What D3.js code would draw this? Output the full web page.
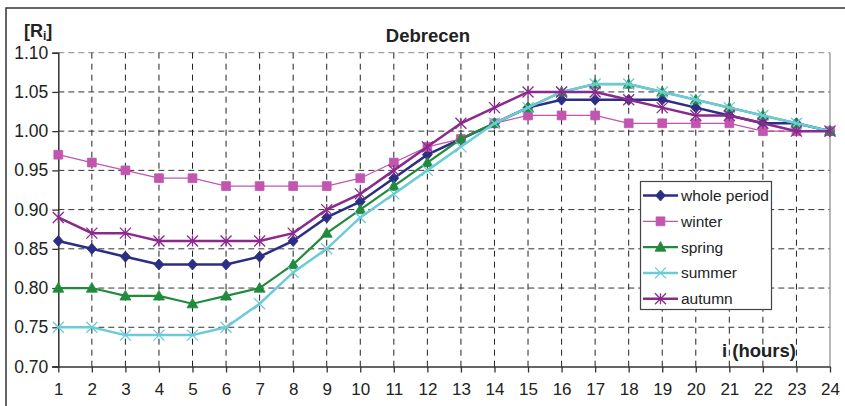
<!DOCTYPE html>
<html>
<head>
<meta charset="utf-8">
<script src="https://cdn.jsdelivr.net/npm/d3@7"></script>
<style>
  body { margin: 0; background: #fff; }
  svg { display: block; font-family: "Liberation Sans", Arial, sans-serif; }
</style>
</head>
<body>
<svg id="chart"></svg>
<script>
// hours on the x axis
var hours = d3.range(1, 25)
var yTicks = [0.70, 0.75, 0.80, 0.85, 0.90, 0.95, 1.00, 1.05, 1.10]

var wholePeriod = [0.86, 0.85, 0.84, 0.83, 0.83, 0.83, 0.84, 0.86, 0.89, 0.91, 0.94, 0.97,
                   0.99, 1.01, 1.03, 1.04, 1.04, 1.04, 1.04, 1.03, 1.02, 1.01, 1.01, 1.00]
var winter = [0.97, 0.96, 0.95, 0.94, 0.94, 0.93, 0.93, 0.93, 0.93, 0.94, 0.96, 0.98,
              0.99, 1.01, 1.02, 1.02, 1.02, 1.01, 1.01, 1.01, 1.01, 1.00, 1.00, 1.00]
var spring = [0.80, 0.80, 0.79, 0.79, 0.78, 0.79, 0.80, 0.83, 0.87, 0.90, 0.93, 0.96,
              0.99, 1.01, 1.03, 1.05, 1.06, 1.06, 1.05, 1.04, 1.03, 1.02, 1.01, 1.00]
var summer = [0.75, 0.75, 0.74, 0.74, 0.74, 0.75, 0.78, 0.82, 0.85, 0.89, 0.92, 0.95,
              0.98, 1.01, 1.03, 1.05, 1.06, 1.06, 1.05, 1.04, 1.03, 1.02, 1.01, 1.00]
var autumn = [0.89, 0.87, 0.87, 0.86, 0.86, 0.86, 0.86, 0.87, 0.90, 0.92, 0.95, 0.98,
              1.01, 1.03, 1.05, 1.05, 1.05, 1.04, 1.03, 1.02, 1.02, 1.01, 1.00, 1.00]

var seriesNames = ["whole period", "winter", "spring", "summer", "autumn"]
var seriesValues = [wholePeriod, winter, spring, summer, autumn]

var styles = {
    "whole period": {color: "#2b2e83", width: 2.5, marker: "diamond"},
    "winter":       {color: "#c255b0", width: 1.3, marker: "square"},
    "spring":       {color: "#218a3c", width: 2.2, marker: "triangle"},
    "summer":       {color: "#6ccbd9", width: 2.5, marker: "x"},
    "autumn":       {color: "#8a2a8c", width: 2.5, marker: "star"}
}

var W = 845, H = 406
var svg = d3.select("#chart").attr("width", W).attr("height", H)

// outer frame (only top and left are visible in the crop)
svg.append("path")
    .attr("d", "M6,406 L6,8 L845,8")
    .attr("fill", "none")
    .attr("stroke", "#333")
    .attr("stroke-width", 1.5)

var x = d3.scaleLinear().domain([1, 24]).range([58.3, 830])
var y = d3.scaleLinear().domain([0.70, 1.10]).range([366.5, 52.7])

// grid
var grid = svg.append("g")
grid.selectAll("line.h")
    .data(yTicks.filter(d => d > 0.71))
    .enter().append("line")
    .attr("x1", x(1)).attr("x2", x(24))
    .attr("y1", d => y(d)).attr("y2", d => y(d))
    .attr("stroke", d => d > 1.09 ? "#888" : "#333")
    .attr("stroke-width", 1)
    .attr("stroke-dasharray", "6,4")

grid.selectAll("line.v")
    .data(hours.slice(1, 23))
    .enter().append("line")
    .attr("x1", d => x(d)).attr("x2", d => x(d))
    .attr("y1", y(1.10)).attr("y2", y(0.70))
    .attr("stroke", "#222")
    .attr("stroke-width", 1)
    .attr("stroke-dasharray", "6,5")

// right border of plot
svg.append("line")
    .attr("x1", x(24)).attr("x2", x(24))
    .attr("y1", y(1.10)).attr("y2", y(0.70))
    .attr("stroke", "#888").attr("stroke-width", 1.2)

// axes
var xAxis = svg.append("g")
    .attr("transform", "translate(0," + y(0.70) + ")")
    .call(d3.axisBottom(x).tickValues(hours).tickFormat(d3.format("d")).tickSizeOuter(0).tickSize(6).tickPadding(10))
xAxis.select(".domain").attr("stroke", "#333").attr("stroke-width", 1.5)
    .attr("d", "M" + (x(1) - 6) + ",0.5H" + x(24))
xAxis.selectAll(".tick line").attr("stroke", "#333").attr("stroke-width", 1.3)
xAxis.selectAll(".tick text")
    .attr("font-size", "17px").attr("fill", "#222")
    .attr("font-family", "Liberation Sans, Arial, sans-serif")

var yAxis = svg.append("g")
    .attr("transform", "translate(" + x(1) + ",0)")
    .call(d3.axisLeft(y).tickValues(yTicks).tickFormat(d3.format(".2f")).tickSizeOuter(0).tickSize(6).tickPadding(4))
yAxis.select(".domain").attr("stroke", "#333").attr("stroke-width", 1.5)
yAxis.selectAll(".tick line").attr("stroke", "#333").attr("stroke-width", 1.3)
yAxis.selectAll(".tick text")
    .attr("font-size", "17.5px").attr("fill", "#222")
    .attr("font-family", "Liberation Sans, Arial, sans-serif")

// marker shapes
function markerPath(type, s) {
    if (type === "diamond") return "M0," + (-s) + "L" + (s * 0.9) + ",0L0," + s + "L" + (-s * 0.9) + ",0Z"
    if (type === "square") { var h = s * 0.8; return "M" + (-h) + "," + (-h) + "H" + h + "V" + h + "H" + (-h) + "Z" }
    if (type === "triangle") return "M0," + (-s) + "L" + s + "," + (s * 0.75) + "L" + (-s) + "," + (s * 0.75) + "Z"
    if (type === "x") return "M" + (-s) + "," + (-s) + "L" + s + "," + s + "M" + (-s) + "," + s + "L" + s + "," + (-s)
    if (type === "star") return "M" + (-s) + "," + (-s) + "L" + s + "," + s + "M" + (-s) + "," + s + "L" + s + "," + (-s) + "M0," + (-s) + "V" + s
}

function drawMarker(g, type, color, cx, cy) {
    var stroked = type === "x" || type === "star"
    g.append("path")
        .attr("transform", "translate(" + cx + "," + cy + ")")
        .attr("d", markerPath(type, stroked ? 5.5 : 5.5))
        .attr("fill", stroked ? "none" : color)
        .attr("stroke", color)
        .attr("stroke-width", stroked ? 1.3 : 0.8)
}

var line = d3.line()
    .x((d, i) => x(hours[i]))
    .y(d => y(d))

var plot = svg.append("g")
seriesNames.forEach(function (name, k) {
    var st = styles[name]
    var g = plot.append("g")
    g.append("path")
        .datum(seriesValues[k])
        .attr("d", line)
        .attr("fill", "none")
        .attr("stroke", st.color)
        .attr("stroke-width", st.width)
    seriesValues[k].forEach(function (v, i) {
        drawMarker(g, st.marker, st.color, x(hours[i]), y(v))
    })
})

// title and axis labels
svg.append("text")
    .attr("x", 428).attr("y", 42)
    .attr("text-anchor", "middle")
    .attr("font-size", "18.5px").attr("font-weight", "bold").attr("fill", "#222")
    .text("Debrecen")

var rl = svg.append("text")
    .attr("x", 24).attr("y", 37)
    .attr("font-size", "18px").attr("font-weight", "bold").attr("fill", "#222")
rl.append("tspan").text("[R")
rl.append("tspan").attr("font-size", "12px").attr("dy", 3).text("i")
rl.append("tspan").attr("dy", -3).text("]")

svg.append("text")
    .attr("x", 722).attr("y", 357)
    .attr("font-size", "18.5px").attr("font-weight", "bold").attr("fill", "#222")
    .text("i (hours)")

// legend
var legend = svg.append("g")
legend.append("rect")
    .attr("x", 640.5).attr("y", 181.5)
    .attr("width", 131).attr("height", 128)
    .attr("fill", "#fff")
    .attr("stroke", "#444").attr("stroke-width", 1.2)

seriesNames.forEach(function (name, k) {
    var st = styles[name]
    var ly = 195.5 + k * 25.8
    var g = legend.append("g")
    g.append("line")
        .attr("x1", 643).attr("x2", 678)
        .attr("y1", ly).attr("y2", ly)
        .attr("stroke", st.color).attr("stroke-width", st.width)
    drawMarker(g, st.marker, st.color, 660.5, ly)
    g.append("text")
        .attr("x", 681).attr("y", ly + 5.5)
        .attr("font-size", "15.5px").attr("fill", "#222")
        .text(name)
})
</script>
</body>
</html>
